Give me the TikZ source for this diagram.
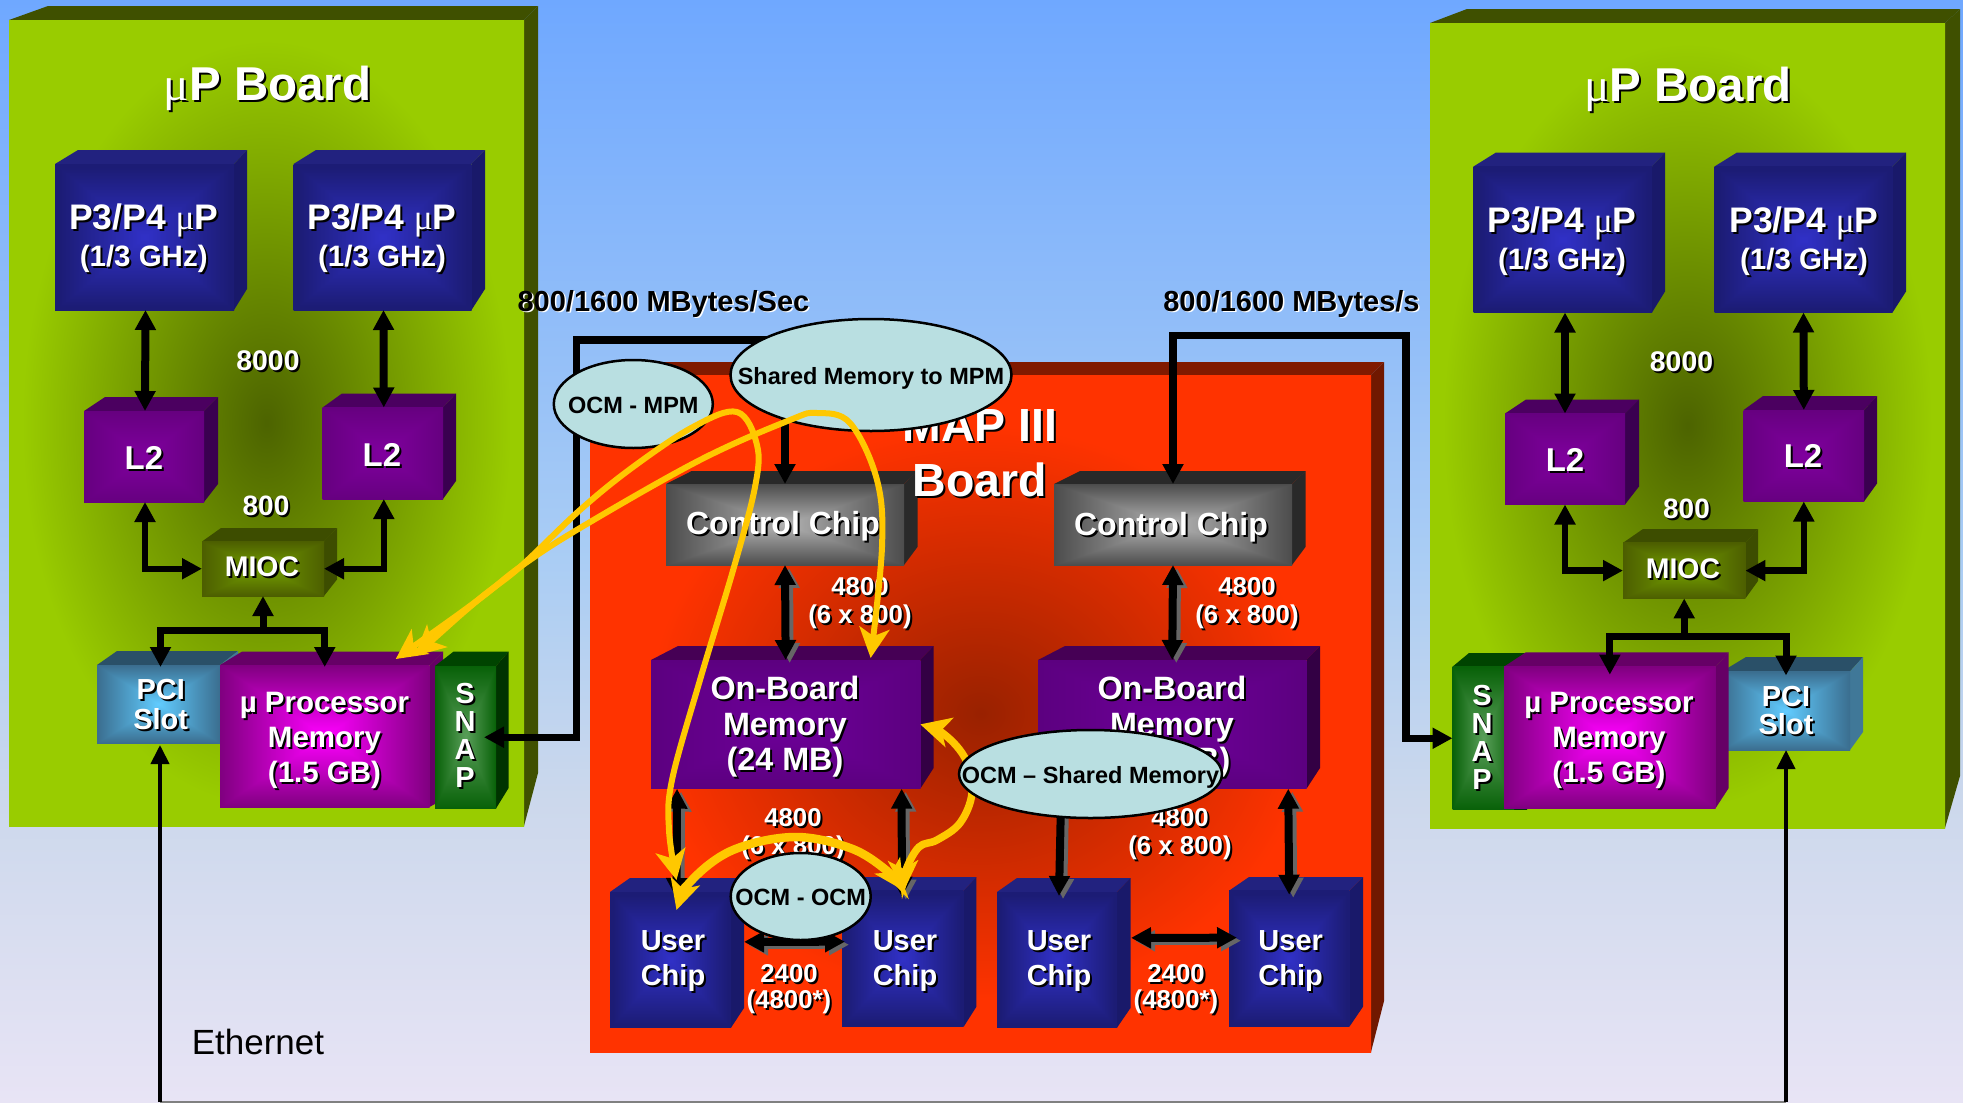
\documentclass[tikz,border=0pt]{standalone}
\usepackage{fontspec}
\setmainfont{Liberation Sans}
\newfontfamily\gk{Liberation Serif}
\usetikzlibrary{arrows.meta,shapes.geometric,calc}
% rectangular centre-out gradient: name, centre r g b, edge r g b, k
\newcommand\mkbox[8]{\pgfdeclarefunctionalshading{#1}{\pgfpointorigin}{\pgfpoint{100bp}{100bp}}{}{50 sub abs exch 50 sub abs 2 copy lt {exch} if pop 25 div #8 div dup 1 gt {pop 1} if
 dup #5 #2 sub mul #2 add exch dup #6 #3 sub mul #3 add exch #7 #4 sub mul #4 add}}
% elliptical centre-out gradient
\newcommand\mkell[8]{\pgfdeclarefunctionalshading{#1}{\pgfpointorigin}{\pgfpoint{100bp}{100bp}}{}{50 sub 25 div dup mul exch 50 sub 25 div dup mul add sqrt #8 div dup 1 gt {pop 1} if
 dup #5 #2 sub mul #2 add exch dup #6 #3 sub mul #3 add exch #7 #4 sub mul #4 add}}
\mkbox{pthree}{.19}{.19}{.78}{.11}{.11}{.46}{.95}
\mkbox{ltwo}{.50}{0}{.62}{.40}{0}{.50}{1}
\mkbox{obm}{.43}{0}{.60}{.36}{0}{.50}{1}
\mkbox{upm}{1}{0}{1}{.50}{0}{.50}{1}
\mkbox{snp}{.35}{.62}{.35}{.03}{.38}{.03}{1}
\mkbox{mic}{.45}{.62}{0}{.30}{.37}{0}{1}
\mkbox{pcs}{.38}{.80}{1}{.23}{.43}{.56}{1}
\mkbox{ctl}{.70}{.70}{.70}{.30}{.30}{.30}{1}
\mkell{grn}{.30}{.39}{0}{.60}{.80}{0}{.95}
\mkell{red}{.60}{.13}{0}{1}{.20}{0}{.85}
\definecolor{bgA}{HTML}{E8E4F5}\definecolor{bgB}{HTML}{CCD8EC}\definecolor{bgC}{HTML}{AACDF4}\definecolor{bgD}{HTML}{6FA8FF}
\pgfdeclareverticalshading{skyfade}{100bp}{color(0bp)=(bgA);color(25bp)=(bgA);color(38.7bp)=(bgB);color(49.6bp)=(bgC);color(75bp)=(bgD);color(100bp)=(bgD)}
\definecolor{pthreetop}{HTML}{22227F}\definecolor{pthreeside}{HTML}{19196A}
\definecolor{ltwotop}{HTML}{4B0060}\definecolor{ltwoside}{HTML}{3A0050}
\definecolor{obmtop}{HTML}{460055}\definecolor{obmside}{HTML}{330044}
\definecolor{upmtop}{HTML}{660066}\definecolor{upmside}{HTML}{660066}
\definecolor{snptop}{HTML}{004400}\definecolor{snpside}{HTML}{003300}
\definecolor{mictop}{HTML}{3D4D00}\definecolor{micside}{HTML}{3D4D00}
\definecolor{pcstop}{HTML}{2A5068}\definecolor{pcsside}{HTML}{407898}
\definecolor{ctltop}{HTML}{292929}\definecolor{ctlside}{HTML}{292929}
\definecolor{grntop}{HTML}{3F5000}\definecolor{grnside}{HTML}{3F5000}
\definecolor{redtop}{HTML}{801A00}\definecolor{redside}{HTML}{701800}
\definecolor{ocmfill}{HTML}{B9DFE1}\definecolor{gold}{HTML}{FFC800}
\tikzset{
 bk/.style={line width=#1,black,line join=miter,>={Triangle[length=20pt,width=20pt]}},
 bk/.default=6.5pt,
 shd/.style={color=black!60,transform canvas={xshift=4pt,yshift=-3pt}},
 eth/.style={line width=4pt,black,>={Triangle[length=19pt,width=18pt]}},
 yl/.style={line width=#1,gold,<->,>={Stealth[length=30pt,width=30pt,inset=8pt]}},
 yl/.default=6pt,
 face/.style={shade,shading angle=0,inner sep=0pt,outer sep=0pt},
 ocm/.style={ellipse,draw=black,line width=2.5pt,fill=ocmfill,inner sep=0pt,outer sep=0pt,font=\bfseries\fontsize{23.5}{26}\selectfont,text=black}
}
\newcommand\otext[1]{\makebox[0pt]{\raisebox{-9pt}[0pt][0pt]{#1}}}
% \cube{name}{family}(x0,y0,x1,y1)(backleft,backright,backtop,backbottom)
\def\cube#1#2(#3,#4,#5,#6){\def\cn{#1}\def\cf{#2}\def\xa{#3}\def\ya{#4}\def\xb{#5}\def\yb{#6}\cubeii}
\def\cubeii(#1,#2,#3,#4){%
 \edef\ctop{\cf top}\edef\cside{\cf side}%
 \fill[\ctop] (\xa,\ya) -- (#1,#3) -- (#2,#3) -- (\xb,\ya) -- cycle;
 \fill[\cside] (\xb,\ya) -- (#2,#3) -- (#2,#4) -- (\xb,\yb) -- cycle;
 \pgfmathsetmacro\cubew{\xb-\xa}\pgfmathsetmacro\cubeh{\yb-\ya}%
 \pgfmathsetmacro\cubex{(\xa+\xb)/2}\pgfmathsetmacro\cubey{(\ya+\yb)/2}%
 \node[face,shading=\cf,minimum width=\cubew pt,minimum height=\cubeh pt] (\cn) at (\cubex,\cubey) {};
}
% shadowed label: name,x,y,size,leading,text
\newcommand\slab[6]{%
 \node[align=center,inner sep=0pt,text=black,font=\bfseries\fontsize{#4}{#5}\selectfont] (#1s) at ($(#2,#3)+(2,2)$) {#6};
 \node[align=center,inner sep=0pt,text=white,font=\bfseries\fontsize{#4}{#5}\selectfont] (#1) at (#2,#3) {#6};}
\newcommand\blab[6]{%
 \node[align=center,inner sep=0pt,text=white,font=\bfseries\fontsize{#4}{#5}\selectfont] (#1s) at ($(#2,#3)+(1.5,1.5)$) {#6};
 \node[align=center,inner sep=0pt,text=black,font=\bfseries\fontsize{#4}{#5}\selectfont] (#1) at (#2,#3) {#6};}
\newcommand\shlink[2]{\draw[bk=8pt,<->,shd] #1 -- #2; \draw[bk=8pt,<->] #1 -- #2;}
\begin{document}
\begin{tikzpicture}[x=1pt,y=-1pt]
\useasboundingbox (0,0) rectangle (1963,1103);
\shade[shading=skyfade] (0,0) rectangle (1963,1103);

% ---- boards
\cube{boardl}{grn}(9,20,524,826)(48,538,6,773)
\cube{boardr}{grn}(1430,23,1945,828)(1467,1960,9,776)
\cube{boardm}{red}(590,375,1371,1052)(606,1384,362,1001)

% ---- left board cubes
\cube{pa}{pthree}(55,164,234,310)(78,247,150,289)
\cube{pb}{pthree}(293.5,164,471.5,310)(316,485,150,289)
\cube{la}{ltwo}(84,411,204,502)(105,218,397,484)
\cube{lb}{ltwo}(322.6,407.5,443,499)(342,456,393.5,481)
\cube{mi}{mic}(202,541.5,324,596)(221,337,528,579.5)
\cube{pc}{pcs}(97,665,220,743)(117,238,651,743)
\cube{um}{upm}(220,665,429.5,807)(242,443,651.6,799.5)
\cube{sn}{snp}(435,666,496,808.5)(453.5,508.6,651.6,788)

% ---- right board cubes
\cube{par}{pthree}(1473.5,166.5,1652,312.5)(1496,1665,152.5,291.5)
\cube{pbr}{pthree}(1714.5,166.5,1892.5,312.5)(1737,1906,152.5,291.5)
\cube{lar}{ltwo}(1505,413.5,1625,504.5)(1526,1639,399.5,486.5)
\cube{lbr}{ltwo}(1743.6,410,1864,501.5)(1763,1877,396,483.5)
\cube{mir}{mic}(1623,542.8,1745.4,598.4)(1643,1758,529,581)
\cube{pcr}{pcs}(1722,671.5,1850,750)(1746,1863,657,732)
\cube{snr}{snp}(1452.5,666.7,1514,809.8)(1469,1527,653,809.8)
\cube{umr}{upm}(1504,666.7,1715.7,808)(1525.7,1728.7,652.4,788)

% ---- middle board cubes
\cube{cca}{ctl}(666,484,904,565)(691.7,917.7,471,546.7)
\cube{ccb}{ctl}(1054,484,1292,565)(1080,1305.7,471,546.7)
\cube{oma}{obm}(651,660,920.3,788.7)(678,933.6,646,768)
\cube{omb}{obm}(1038,660,1306.5,788.7)(1065,1320,646,768)
\cube{ua}{pthree}(610,892,731,1027.7)(630,744,878,1008)
\cube{ub}{pthree}(842,890.7,963.7,1026.7)(862,976.4,877,1006.7)
\cube{uc}{pthree}(997,892,1117,1027.7)(1017,1130.5,878,1008)
\cube{ud}{pthree}(1229,890.7,1349.4,1026.7)(1249,1363,877,1006.7)

% ---- labels
\slab{tl}{267.5}{88}{47.5}{50}{{\gk\mdseries μ}P Board}
\slab{tr}{1688}{89}{47.5}{50}{{\gk\mdseries μ}P Board}
\slab{tm}{980}{453}{46.5}{55}{MAP III\\Board}
\slab{ta}{143.7}{238}{35.5}{37}{P3/P4 {\gk\mdseries μ}P\\{\fontsize{29.5}{37}\selectfont (1/3 GHz)}}
\slab{tb}{382}{238}{35.5}{37}{P3/P4 {\gk\mdseries μ}P\\{\fontsize{29.5}{37}\selectfont (1/3 GHz)}}
\slab{tc}{1562}{241}{35.5}{37}{P3/P4 {\gk\mdseries μ}P\\{\fontsize{29.5}{37}\selectfont (1/3 GHz)}}
\slab{td}{1804}{241}{35.5}{37}{P3/P4 {\gk\mdseries μ}P\\{\fontsize{29.5}{37}\selectfont (1/3 GHz)}}
\slab{te}{144}{458}{33}{36}{L2}
\slab{tf}{382}{454.5}{33}{36}{L2}
\slab{tg}{1565}{459.5}{33}{36}{L2}
\slab{th}{1803}{456}{33}{36}{L2}
\slab{ti}{268}{361}{28.4}{30}{8000}
\slab{tj}{1681.5}{362}{28.4}{30}{8000}
\slab{tk}{266}{506}{28}{30}{800}
\slab{tn}{1686.5}{508.5}{28}{30}{800}
\slab{to}{262}{567}{28.4}{30}{MIOC}
\slab{tp}{1683}{569}{28.4}{30}{MIOC}
\slab{tq}{160.7}{704.5}{29}{29.5}{PCI\\Slot}
\slab{tt}{1786}{710.5}{29}{28.5}{PCI\\Slot}
\slab{tu}{324.5}{740}{29.5}{35}{µ Processor\\Memory\\(1.5 GB)}
\slab{tv}{1609}{740}{29.5}{35}{µ Processor\\Memory\\(1.5 GB)}
\slab{tw}{465}{735.5}{29}{28}{S\\N\\A\\P}
\slab{tx}{1482}{737}{29}{28}{S\\N\\A\\P}
\slab{ty}{783}{526.5}{32}{36}{Control Chip}
\slab{tz}{1171}{527}{32}{36}{Control Chip}
\slab{tma}{785}{727}{32.3}{35.5}{On-Board\\Memory\\(24 MB)}
\slab{tmb}{1172}{727}{32.3}{35.5}{On-Board\\Memory\\(24 MB)}
\slab{tua}{673}{961.5}{29}{35}{User\\Chip}
\slab{tub}{905}{961}{29}{35}{User\\Chip}
\slab{tuc}{1059}{961.5}{29}{35}{User\\Chip}
\slab{tud}{1290.7}{961}{29}{35}{User\\Chip}
\slab{nsa}{860}{603}{25.8}{27.5}{4800\\(6 x 800)}
\slab{nsb}{1247}{603}{25.8}{27.5}{4800\\(6 x 800)}
\slab{nsc}{793}{834}{25.8}{27.5}{4800\\(6 x 800)}
\slab{nsd}{1180}{834}{25.8}{27.5}{4800\\(6 x 800)}
\slab{nse}{789}{989}{25.8}{25.5}{2400\\(4800*)}
\slab{nsf}{1176}{989}{25.8}{25.5}{2400\\(4800*)}
\blab{rta}{663.5}{303.7}{29}{32}{800/1600 MBytes/Sec}
\blab{rtb}{1291.5}{303.7}{29}{32}{800/1600 MBytes/s}
\node[inner sep=0pt,text=black,font=\fontsize{35}{38}\selectfont] (ethl) at (258,1041.6) {Ethernet};

% ---- Ethernet
\coordinate (ebl) at ([xshift=1.5pt]pc.south |- 0,1102);
\coordinate (ebr) at (pcr.south |- 0,1102);
\draw[line width=2pt,black!50] (ebl) -- (ebr);
\draw[eth,->] (ebl) -- ([xshift=1.5pt,yshift=-2pt]pc.south);
\draw[eth,->] (ebr) -- (pcr.south);

% ---- black connectors, left board
\draw[bk=8pt,<->] ([xshift=1pt]pa.south) -- ([xshift=1pt]la.north);
\draw[bk=8pt,<->] ([xshift=1pt]pb.south) -- ([xshift=1pt]lb.north);
\draw[bk,<->] ([xshift=1pt]la.south) |- (mi.west);
\draw[bk,<->] ([xshift=1pt]lb.south) |- (mi.east);
\coordinate (busa) at ([yshift=-34pt]mi.south);
\draw[bk=7pt,->] (busa) -- (mi.south);
\draw[bk=7pt,->] (busa) -| ([xshift=2pt,yshift=-2pt]pc.north);
\draw[bk=7pt,->] (busa) -| ([yshift=-2pt]um.north);

% ---- black connectors, right board
\draw[bk=8pt,<->] (par.south -| lar.north) -- (lar.north);
\draw[bk=8pt,<->] (pbr.south) -- (lbr.north);
\draw[bk,<->] (lar.south) |- (mir.west);
\draw[bk,<->] (lbr.south) |- (mir.east);
\coordinate (busb) at ([yshift=-38pt]mir.south);
\draw[bk=7pt,->] (busb) -- (mir.south);
\draw[bk=7pt,->] (busb) -| ([yshift=-4pt]pcr.north);
\draw[bk=7pt,->] (busb) -| ([yshift=-8pt]umr.north);

% ---- board-to-board links
\coordinate (cna) at (576.7,340);
\coordinate (cnb) at (1406,335.5);
\draw[bk=7.5pt,<->] ([xshift=-12pt]sn.east) -| (cna) -| (cca.north);
\draw[bk=7.5pt,<->] (snr.west) -| (cnb) -| (ccb.north);

% ---- links on the middle board
\shlink{(cca.south)}{(oma.north)}
\shlink{(ccb.south)}{(omb.north)}
\shlink{([xshift=-108.6pt]oma.south)}{([xshift=6pt,yshift=-6pt]ua.north)}
\shlink{([xshift=116pt]oma.south)}{([xshift=-1pt,yshift=-6pt]ub.north)}
\shlink{([xshift=-111pt]omb.south)}{([xshift=2pt,yshift=-4pt]uc.north)}
\shlink{([xshift=116pt]omb.south)}{([yshift=-4pt]ud.north)}
\shlink{([xshift=13pt,yshift=18pt]ua.east)}{([xshift=3pt,yshift=17pt]ub.west)}
\shlink{([xshift=14pt,yshift=22pt]uc.east)}{([xshift=8pt,yshift=21pt]ud.west)}

% ---- gold curve passing behind its ellipse
\coordinate (gsa) at (oma.east);
\coordinate (gua) at ([xshift=1pt,yshift=0pt]ub.north);
\draw[yl=7.5pt] plot[smooth,tension=.6] coordinates {(gsa) (945,735) (966,760) (972,793) (960,823) (937,840) (919,847) (906,870) (gua)};

% ---- ellipses
\node[ocm,minimum width=159pt,minimum height=88pt] (ea) at (633.3,404) {\otext{OCM - MPM}};
\node[ocm,minimum width=281pt,minimum height=112pt] (eb) at (871,375) {\otext{Shared Memory to MPM}};
\node[ocm,minimum width=263pt,minimum height=88pt] (ec) at (1090.5,774) {\otext{OCM – Shared Memory}};
\node[ocm,minimum width=140pt,minimum height=87pt] (ed) at (800.7,896.5) {\otext{OCM - OCM}};

% ---- gold curves on top
\coordinate (gma) at ([xshift=90pt,yshift=9pt]um.north);
\coordinate (gmb) at ([xshift=71pt,yshift=6pt]um.north);
\coordinate (gub) at ([xshift=6pt,yshift=12pt]ua.north);
\coordinate (goa) at ([xshift=85pt,yshift=2pt]oma.north);
\coordinate (guc) at ([xshift=6pt,yshift=-18pt]ua.north);
\draw[yl] plot[smooth,tension=.6] coordinates {(gma) (478,600) (520,567) (580,510) (633,467) (693,427) (737,412) (757,445) (755,487) (734,567) (700,680) (672,780) (669,830) (gub)};
\draw[yl] plot[smooth,tension=.6] coordinates {(gmb) (478,600) (520,567) (580,528) (700,460) (790,420) (817,413) (850,423) (877,480) (882,547) (goa)};
\draw[yl=8.5pt] plot[smooth,tension=.6] coordinates {(guc) (692,880) (733,850) (794,837) (850,848) (886,870) (gua)};
\end{tikzpicture}
\end{document}
